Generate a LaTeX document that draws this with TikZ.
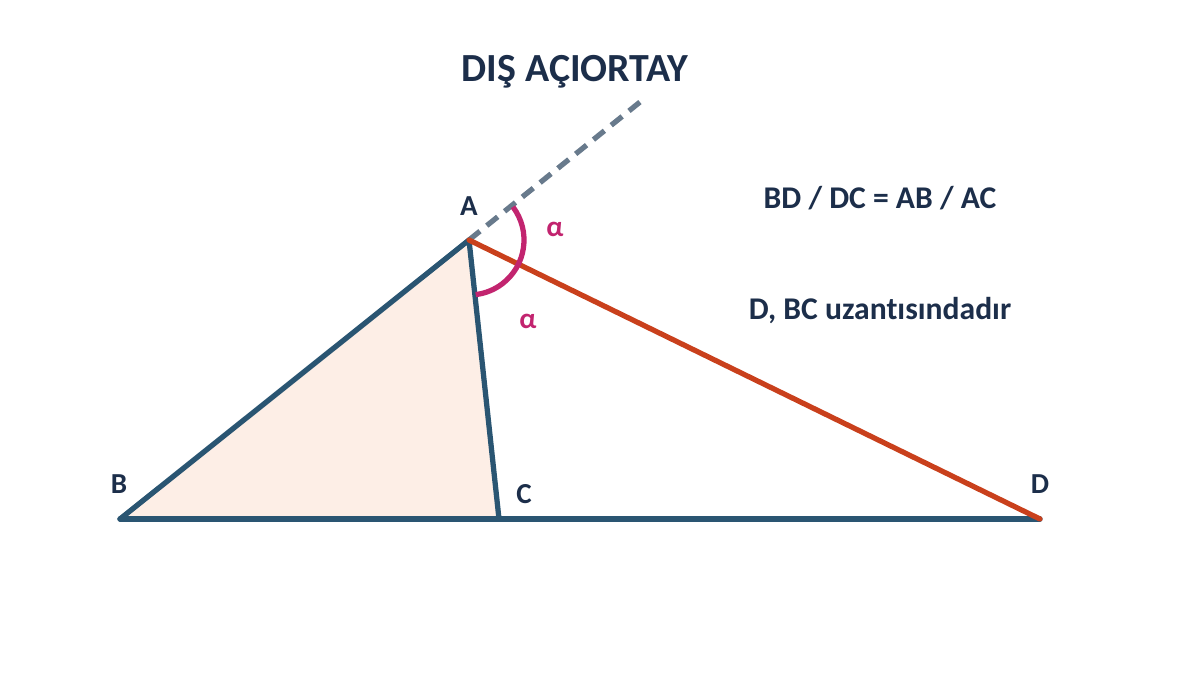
\documentclass[tikz,border=0pt]{standalone}
\usepackage{fontspec}
\setmainfont[Ligatures=NoCommon]{Carlito}
\usetikzlibrary{positioning}
\definecolor{side}{HTML}{2A5572}
\definecolor{bis}{HTML}{C9401C}
\definecolor{ang}{HTML}{C2246F}
\definecolor{trifill}{HTML}{FDEEE6}
\definecolor{ext}{HTML}{687A8C}
\definecolor{ink}{HTML}{1C2E4A}
\begin{document}
\begin{tikzpicture}
		[x=0.02cm, y=-0.02cm, line width=3pt,
		lbl/.style = {font=\bfseries\fontsize{16.5}{19}\selectfont, text=ink},
		alp/.style = {font=\bfseries\fontsize{16.5}{19}\selectfont, text=ang},
		big/.style = {font=\bfseries\fontsize{18}{21}\selectfont, text=ink}]
	\useasboundingbox (0,0) rectangle (1200,675);
	\coordinate (A) at (469,240);
	\coordinate (B) at (120,519);
	\coordinate (C) at (499,519);
	\coordinate (D) at (1040,519);
	\coordinate (T) at (645,98);
	\fill[trifill] (B) -- (A) -- (C) -- cycle;
	\draw[ext, dash pattern=on 8pt off 5pt] (A) -- (T);
	\draw[side, line cap=round] (B) -- (D);
	\draw[side, line cap=round, line join=round] (B) -- (A) -- (C);
	\draw[bis, line cap=round] (A) -- (D);
	\draw[ang] (A) ++(-37:55) arc[start angle=-37, end angle=83, radius=55];
	\node[lbl] (a) at (469,206) {A};
	\node[lbl] (b) at (119,484) {B};
	\node[lbl] (c) at (524,494) {C};
	\node[lbl] (d) at (1040,484) {D};
	\node[alp] (al1) at (555,229) {α};
	\node[alp] (al2) at (528,321) {α};
	\node[font=\bfseries\fontsize{22.7}{27}\selectfont, text=ink] (title) at (575,72) {DIŞ AÇIORTAY};
	\node[big] (ratio) at (880,198) {BD / DC = AB / AC};
	\node[big] (note) at (880,311) {D, BC uzantısındadır};
\end{tikzpicture}
\end{document}
